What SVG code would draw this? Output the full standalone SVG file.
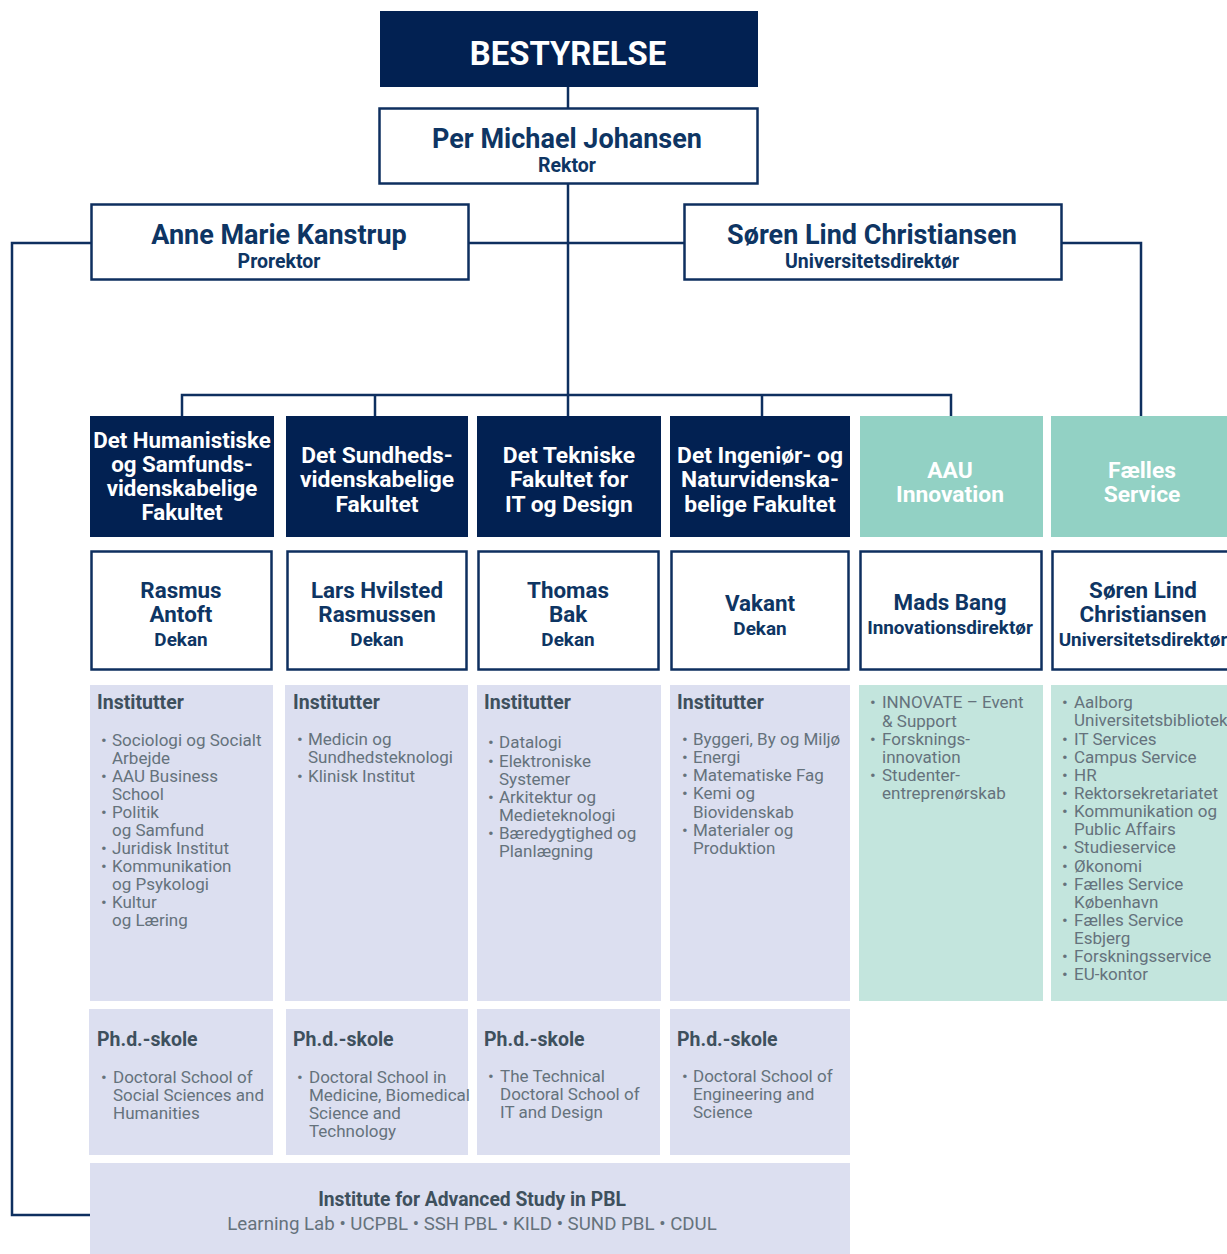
<svg xmlns="http://www.w3.org/2000/svg" width="1227" height="1254" viewBox="0 0 1227 1254">
<style>
.navy{fill:#022152}
.wbox{fill:#ffffff;stroke:#0e2f5f;stroke-width:2.5}
.teal{fill:#92d1c4}
.lav{fill:#dcdff0}
.lteal{fill:#c3e5dd}
.conn{fill:none;stroke:#0e2f5f;stroke-width:2.5}
text{font-family:Roboto,"Liberation Sans",sans-serif}
.hw{fill:#ffffff;font-weight:700;font-size:22.8px;text-anchor:middle}
.nm{fill:#0e3563;font-weight:700;font-size:22.4px;text-anchor:middle}
.big{fill:#0e3563;font-weight:700;font-size:27px;text-anchor:middle}
.role{font-size:19.5px}
.drole{font-size:18.9px}
.sh{fill:#3e505d;font-weight:700;font-size:19.5px}
.it{fill:#65727c;font-size:17px}
</style>
<g id="connectors">
<line class="conn" x1="568" y1="87" x2="568" y2="108"/>
<line class="conn" x1="568" y1="184" x2="568" y2="416"/>
<line class="conn" x1="469" y1="243" x2="684" y2="243"/>
<polyline class="conn" points="91,243 12,243 12,1215 90,1215"/>
<polyline class="conn" points="1062,243 1141,243 1141,416"/>
<polyline class="conn" points="182,416 182,395 951,395 951,416"/>
<line class="conn" x1="375" y1="395" x2="375" y2="416"/>
<line class="conn" x1="762" y1="395" x2="762" y2="416"/>
</g>
<g id="bestyrelse">
<rect class="navy" x="380" y="11" width="378" height="76"/>
<text x="568" y="65" style="fill:#fff;font-weight:700;font-size:32.8px;text-anchor:middle">BESTYRELSE</text>
</g>
<g id="rektor">
<rect class="wbox" x="379.5" y="108.5" width="378" height="75"/>
<text class="big"><tspan x="567" y="148">Per Michael Johansen</tspan><tspan class="role" x="567" y="172">Rektor</tspan></text>
</g>
<g id="prorektor">
<rect class="wbox" x="91.5" y="204.5" width="377" height="75"/>
<text class="big"><tspan x="279" y="244">Anne Marie Kanstrup</tspan><tspan class="role" x="279" y="268">Prorektor</tspan></text>
</g>
<g id="universitetsdirektor">
<rect class="wbox" x="684.5" y="204.5" width="377" height="75"/>
<text class="big"><tspan x="872" y="244">Søren Lind Christiansen</tspan><tspan class="role" x="872" y="268">Universitetsdirektør</tspan></text>
</g>
<g id="fak-hum">
<rect class="navy" x="90" y="416" width="184" height="121"/>
<text class="hw" style="font-size:22.3px"><tspan x="182" y="448">Det Humanistiske</tspan><tspan x="182" y="472">og Samfunds-</tspan><tspan x="182" y="496">videnskabelige</tspan><tspan x="182" y="520">Fakultet</tspan></text>
</g>
<g id="fak-sund">
<rect class="navy" x="286" y="416" width="182" height="121"/>
<text class="hw"><tspan x="377" y="463">Det Sundheds-</tspan><tspan x="377" y="487.4">videnskabelige</tspan><tspan x="377" y="511.8">Fakultet</tspan></text>
</g>
<g id="fak-tek">
<rect class="navy" x="477" y="416" width="184" height="121"/>
<text class="hw"><tspan x="569" y="463">Det Tekniske</tspan><tspan x="569" y="487.4">Fakultet for</tspan><tspan x="569" y="511.8">IT og Design</tspan></text>
</g>
<g id="fak-ing">
<rect class="navy" x="670" y="416" width="180" height="121"/>
<text class="hw"><tspan x="760" y="463">Det Ingeniør- og</tspan><tspan x="760" y="487.4">Naturvidenska-</tspan><tspan x="760" y="511.8">belige Fakultet</tspan></text>
</g>
<g id="aau-innovation">
<rect class="teal" x="860" y="416" width="183" height="121"/>
<text class="hw"><tspan x="950" y="477.5">AAU</tspan><tspan x="950" y="501.9">Innovation</tspan></text>
</g>
<g id="faelles-service">
<rect class="teal" x="1051" y="416" width="180" height="121"/>
<text class="hw"><tspan x="1142" y="477.5">Fælles</tspan><tspan x="1142" y="501.9">Service</tspan></text>
</g>
<g id="dekan-hum">
<rect class="wbox" x="91.5" y="551.5" width="180" height="118"/>
<text class="nm"><tspan x="181" y="598">Rasmus</tspan><tspan x="181" y="622">Antoft</tspan><tspan class="drole" x="181" y="646">Dekan</tspan></text>
</g>
<g id="dekan-sund">
<rect class="wbox" x="287.5" y="551.5" width="179" height="118"/>
<text class="nm"><tspan x="377" y="598">Lars Hvilsted</tspan><tspan x="377" y="622">Rasmussen</tspan><tspan class="drole" x="377" y="646">Dekan</tspan></text>
</g>
<g id="dekan-tek">
<rect class="wbox" x="478.5" y="551.5" width="180" height="118"/>
<text class="nm"><tspan x="568" y="598">Thomas</tspan><tspan x="568" y="622">Bak</tspan><tspan class="drole" x="568" y="646">Dekan</tspan></text>
</g>
<g id="dekan-ing">
<rect class="wbox" x="671.5" y="551.5" width="177" height="118"/>
<text class="nm"><tspan x="760" y="611">Vakant</tspan><tspan class="drole" x="760" y="635">Dekan</tspan></text>
</g>
<g id="innovationsdirektor">
<rect class="wbox" x="860.5" y="551.5" width="181" height="118"/>
<text class="nm"><tspan x="950" y="610">Mads Bang</tspan><tspan class="drole" x="950" y="634">Innovationsdirektør</tspan></text>
</g>
<g id="faelles-direktor">
<rect class="wbox" x="1052.5" y="551.5" width="180" height="118"/>
<text class="nm"><tspan x="1143" y="598">Søren Lind</tspan><tspan x="1143" y="622">Christiansen</tspan><tspan class="drole" x="1143" y="646">Universitetsdirektør</tspan></text>
</g>
<g id="inst-hum">
<rect class="lav" x="90" y="685" width="183" height="316"/>
<text class="sh" x="97" y="709">Institutter</text>
<text class="it"><tspan x="101" y="746">•</tspan><tspan x="112" y="746">Sociologi og Socialt</tspan><tspan x="112" y="764">Arbejde</tspan><tspan x="101" y="782">•</tspan><tspan x="112" y="782">AAU Business</tspan><tspan x="112" y="800">School</tspan><tspan x="101" y="818">•</tspan><tspan x="112" y="818">Politik</tspan><tspan x="112" y="836">og Samfund</tspan><tspan x="101" y="854">•</tspan><tspan x="112" y="854">Juridisk Institut</tspan><tspan x="101" y="872">•</tspan><tspan x="112" y="872">Kommunikation</tspan><tspan x="112" y="890">og Psykologi</tspan><tspan x="101" y="908">•</tspan><tspan x="112" y="908">Kultur</tspan><tspan x="112" y="926">og Læring</tspan></text>
</g>
<g id="inst-sund">
<rect class="lav" x="285" y="685" width="183" height="316"/>
<text class="sh" x="293" y="709">Institutter</text>
<text class="it"><tspan x="297" y="745">•</tspan><tspan x="308" y="745">Medicin og</tspan><tspan x="308" y="763">Sundhedsteknologi</tspan><tspan x="297" y="782">•</tspan><tspan x="308" y="782">Klinisk Institut</tspan></text>
</g>
<g id="inst-tek">
<rect class="lav" x="477" y="685" width="184" height="316"/>
<text class="sh" x="484" y="709">Institutter</text>
<text class="it"><tspan x="488" y="748">•</tspan><tspan x="499" y="748">Datalogi</tspan><tspan x="488" y="767">•</tspan><tspan x="499" y="767">Elektroniske</tspan><tspan x="499" y="785">Systemer</tspan><tspan x="488" y="803">•</tspan><tspan x="499" y="803">Arkitektur og</tspan><tspan x="499" y="821">Medieteknologi</tspan><tspan x="488" y="839">•</tspan><tspan x="499" y="839">Bæredygtighed og</tspan><tspan x="499" y="857">Planlægning</tspan></text>
</g>
<g id="inst-ing">
<rect class="lav" x="670" y="685" width="180" height="316"/>
<text class="sh" x="677" y="709">Institutter</text>
<text class="it"><tspan x="682" y="745">•</tspan><tspan x="693" y="745">Byggeri, By og Miljø</tspan><tspan x="682" y="763">•</tspan><tspan x="693" y="763">Energi</tspan><tspan x="682" y="781">•</tspan><tspan x="693" y="781">Matematiske Fag</tspan><tspan x="682" y="799">•</tspan><tspan x="693" y="799">Kemi og</tspan><tspan x="693" y="818">Biovidenskab</tspan><tspan x="682" y="836">•</tspan><tspan x="693" y="836">Materialer og</tspan><tspan x="693" y="854">Produktion</tspan></text>
</g>
<g id="innovation-units">
<rect class="lteal" x="859" y="685" width="184" height="316"/>
<text class="it"><tspan x="870" y="708">•</tspan><tspan x="882" y="708">INNOVATE – Event</tspan><tspan x="882" y="727">&amp; Support</tspan><tspan x="870" y="745">•</tspan><tspan x="882" y="745">Forsknings-</tspan><tspan x="882" y="763">innovation</tspan><tspan x="870" y="781">•</tspan><tspan x="882" y="781">Studenter-</tspan><tspan x="882" y="799">entreprenørskab</tspan></text>
</g>
<g id="faelles-units">
<rect class="lteal" x="1051" y="685" width="180" height="316"/>
<text class="it"><tspan x="1062" y="708">•</tspan><tspan x="1074" y="708">Aalborg</tspan><tspan x="1074" y="726">Universitetsbibliotek</tspan><tspan x="1062" y="745">•</tspan><tspan x="1074" y="745">IT Services</tspan><tspan x="1062" y="763">•</tspan><tspan x="1074" y="763">Campus Service</tspan><tspan x="1062" y="781">•</tspan><tspan x="1074" y="781">HR</tspan><tspan x="1062" y="799">•</tspan><tspan x="1074" y="799">Rektorsekretariatet</tspan><tspan x="1062" y="817">•</tspan><tspan x="1074" y="817">Kommunikation og</tspan><tspan x="1074" y="835">Public Affairs</tspan><tspan x="1062" y="853">•</tspan><tspan x="1074" y="853">Studieservice</tspan><tspan x="1062" y="872">•</tspan><tspan x="1074" y="872">Økonomi</tspan><tspan x="1062" y="890">•</tspan><tspan x="1074" y="890">Fælles Service</tspan><tspan x="1074" y="908">København</tspan><tspan x="1062" y="926">•</tspan><tspan x="1074" y="926">Fælles Service</tspan><tspan x="1074" y="944">Esbjerg</tspan><tspan x="1062" y="962">•</tspan><tspan x="1074" y="962">Forskningsservice</tspan><tspan x="1062" y="980">•</tspan><tspan x="1074" y="980">EU-kontor</tspan></text>
</g>
<g id="phd-hum">
<rect class="lav" x="89" y="1009" width="184" height="146"/>
<text class="sh" x="97" y="1046">Ph.d.-skole</text>
<text class="it"><tspan x="101" y="1083">•</tspan><tspan x="113" y="1083">Doctoral School of</tspan><tspan x="113" y="1101">Social Sciences and</tspan><tspan x="113" y="1119">Humanities</tspan></text>
</g>
<g id="phd-sund">
<rect class="lav" x="286" y="1009" width="182" height="146"/>
<text class="sh" x="293" y="1046">Ph.d.-skole</text>
<text class="it"><tspan x="297" y="1083">•</tspan><tspan x="309" y="1083">Doctoral School in</tspan><tspan x="309" y="1101">Medicine, Biomedical</tspan><tspan x="309" y="1119">Science and</tspan><tspan x="309" y="1137">Technology</tspan></text>
</g>
<g id="phd-tek">
<rect class="lav" x="477" y="1009" width="183" height="146"/>
<text class="sh" x="484" y="1046">Ph.d.-skole</text>
<text class="it"><tspan x="488" y="1082">•</tspan><tspan x="500" y="1082">The Technical</tspan><tspan x="500" y="1100">Doctoral School of</tspan><tspan x="500" y="1118">IT and Design</tspan></text>
</g>
<g id="phd-ing">
<rect class="lav" x="670" y="1009" width="180" height="146"/>
<text class="sh" x="677" y="1046">Ph.d.-skole</text>
<text class="it"><tspan x="682" y="1082">•</tspan><tspan x="693" y="1082">Doctoral School of</tspan><tspan x="693" y="1100">Engineering and</tspan><tspan x="693" y="1118">Science</tspan></text>
</g>
<g id="pbl">
<rect class="lav" x="90" y="1163" width="760" height="91"/>
<text class="sh" style="text-anchor:middle;font-size:19.3px"><tspan x="472" y="1206">Institute for Advanced Study in PBL</tspan><tspan x="472" y="1230" style="fill:#65727c;font-weight:400;font-size:18.7px">Learning Lab • UCPBL • SSH PBL • KILD • SUND PBL • CDUL</tspan></text>
</g>
</svg>
